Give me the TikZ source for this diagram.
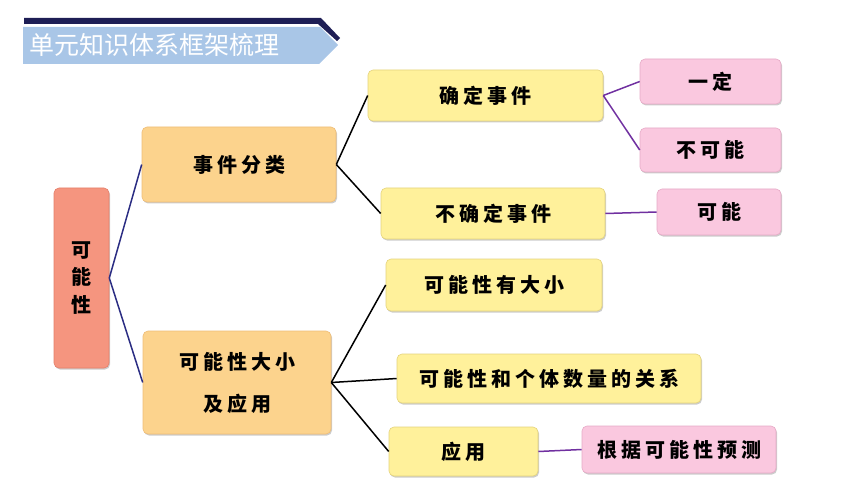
\documentclass[tikz,border=0pt]{standalone}
\usepackage{fontspec}
\usetikzlibrary{shadows}
\newfontfamily\cjk[LetterSpace=20]{Noto Sans CJK SC}
\newfontfamily\headfont{Noto Sans CJK SC}
\definecolor{rootfill}{HTML}{F5957F}
\definecolor{rootline}{HTML}{E47F6A}
\definecolor{orangefill}{HTML}{FCD38D}
\definecolor{orangeline}{HTML}{EEBD78}
\definecolor{yellowfill}{HTML}{FFF19B}
\definecolor{yellowline}{HTML}{E4D37C}
\definecolor{pinkfill}{HTML}{FAC8DF}
\definecolor{pinkline}{HTML}{E6AAC6}
\definecolor{bannerblue}{HTML}{A9C6E7}
\definecolor{bannernavy}{HTML}{1E1E55}
\definecolor{navyline}{HTML}{2B2D83}
\definecolor{purpleline}{HTML}{7030A0}
\begin{document}
\begin{tikzpicture}[x=1pt,y=1pt,yscale=-1,xscale=1,
  box/.style={rounded corners=5pt,line width=0.6pt,inner sep=0pt,align=center,
    font=\cjk\bfseries\fontsize{20}{42}\selectfont,
    drop shadow={shadow xshift=1pt,shadow yshift=-1.5pt,fill=black!40,opacity=0.5}},
  rootbox/.style={box,fill=rootfill,draw=rootline,font=\cjk\bfseries\fontsize{20}{27.5}\selectfont},
  orangebox/.style={box,fill=orangefill,draw=orangeline},
  yellowbox/.style={box,fill=yellowfill,draw=yellowline},
  pinkbox/.style={box,fill=pinkfill,draw=pinkline},
  navylink/.style={draw=navyline,line width=1.5pt},
  blacklink/.style={draw=black,line width=1.5pt},
  purplelink/.style={draw=purpleline,line width=1.5pt}]
\useasboundingbox (0,0) rectangle (860,484);

%Shape: banner
\fill[bannerblue] (23,27) -- (320,27) -- (338,45) -- (319,64) -- (23,64) -- cycle;
\fill[bannernavy] (24,18) -- (321,18) -- (340,38) -- (337,41) -- (318,24) -- (24,24) -- cycle;
% Text Node
\node[anchor=west,inner sep=0pt,text=white,font=\headfont\fontsize{25}{25}\selectfont] (title) at (29,45) {单元知识体系框架梳理};

%Nodes: boxes
\node[rootbox,minimum width=55pt,minimum height=180pt] (root) at (81.5,278) {可\\能\\性};
\node[orangebox,minimum width=194pt,minimum height=75pt] (kind) at (239,164.5) {事件分类};
\node[orangebox,minimum width=188pt,minimum height=103pt] (size) at (237,382.5) {可能性大小\\及应用};
\node[yellowbox,minimum width=235pt,minimum height=51pt] (sure) at (485.5,95.5) {确定事件};
\node[yellowbox,minimum width=224pt,minimum height=51pt] (unsure) at (493,213.5) {不确定事件};
\node[pinkbox,minimum width=141pt,minimum height=45pt] (certain) at (710.5,81.5) {一定};
\node[pinkbox,minimum width=141pt,minimum height=44pt] (impossible) at (710.5,150) {不可能};
\node[pinkbox,minimum width=124pt,minimum height=46pt] (possible) at (719,212) {可能};
\node[yellowbox,minimum width=216pt,minimum height=52pt] (differ) at (494,285) {可能性有大小};
\node[yellowbox,minimum width=304pt,minimum height=49pt] (count) at (549,378.5) {可能性和个体数量的关系};
\node[yellowbox,minimum width=149pt,minimum height=49pt] (use) at (463.5,451.5) {应用};
\node[pinkbox,minimum width=194pt,minimum height=47pt] (predict) at (679,449.5) {根据可能性预测};

%Straight Lines
\draw[navylink] (root.east) -- (kind.west);
\draw[navylink] (root.east) -- (size.west);
\draw[blacklink] (kind.east) -- (sure.west);
\draw[blacklink] (kind.east) -- (unsure.west);
\draw[purplelink] (sure.east) -- (certain.west);
\draw[purplelink] (sure.east) -- (impossible.west);
\draw[purplelink] (unsure.east) -- (possible.west);
\draw[blacklink] (size.east) -- (differ.west);
\draw[blacklink] (size.east) -- (count.west);
\draw[blacklink] (size.east) -- (use.west);
\draw[purplelink] (use.east) -- (predict.west);
\end{tikzpicture}
\end{document}
